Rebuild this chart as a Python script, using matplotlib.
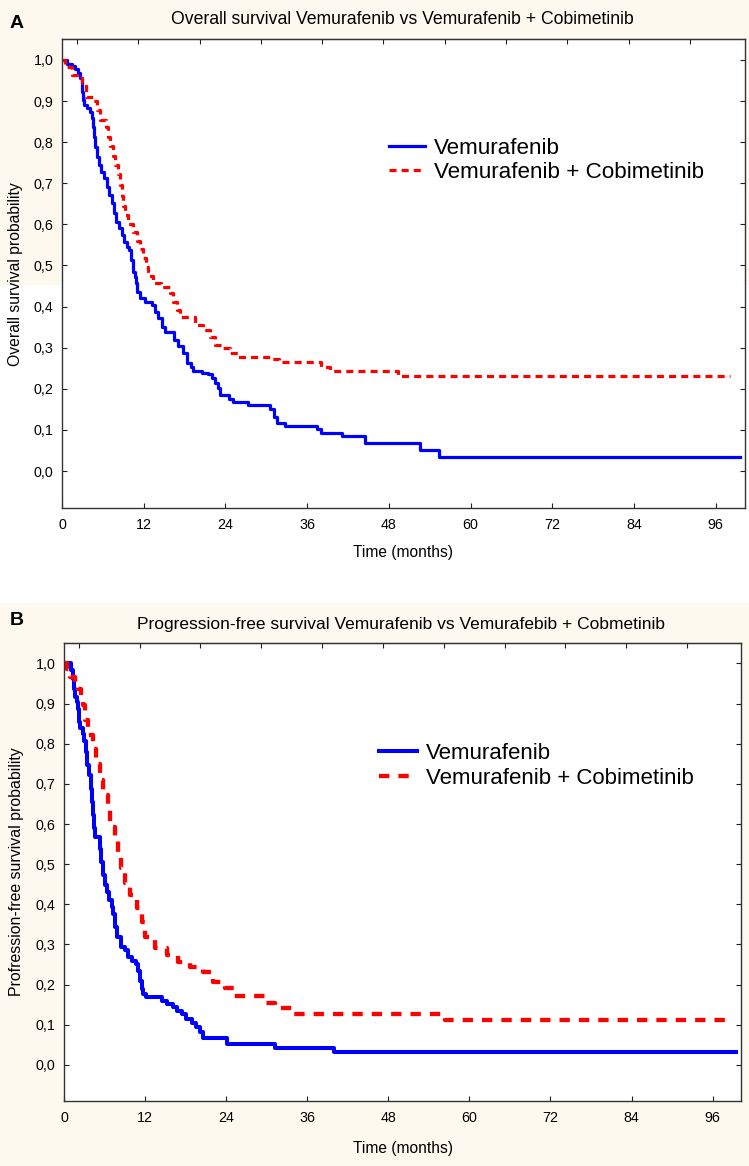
import matplotlib
matplotlib.use('Agg')
import matplotlib.pyplot as plt
from matplotlib.patches import Rectangle
from matplotlib.ticker import FuncFormatter

plt.rcParams['font.family'] = ['Liberation Sans', 'DejaVu Sans']

# ---------------- data ----------------
# Panel A: overall survival (step times in months, survival after the step)
os_vem_t = [0, 0.8, 1.4, 1.9, 2.4, 2.7, 2.9, 3.0, 3.05, 3.2, 3.6, 4.1, 4.35, 4.6, 4.75, 4.9,
            5.2, 5.5, 5.8, 6.2, 6.55, 6.95, 7.3, 7.65, 8.0, 8.4, 8.75, 9.1, 9.5, 9.8, 10.15,
            10.4, 10.7, 10.9, 11.05, 11.45, 12.2, 13.15, 13.65, 14.15, 14.65, 15.1, 16.5,
            17.1, 17.8, 18.3, 19.0, 19.3, 20.5, 21.5, 22.0, 22.5, 22.95, 23.2, 24.5, 25.15,
            27.3, 30.6, 31.1, 31.5, 32.8, 37.4, 38.1, 41.1, 44.5, 52.6, 55.4, 99.6]
os_vem_s = [1.0, 0.99, 0.985, 0.978, 0.968, 0.955, 0.943, 0.923, 0.903, 0.89, 0.882, 0.874,
            0.858, 0.838, 0.813, 0.789, 0.765, 0.745, 0.728, 0.712, 0.692, 0.672, 0.651,
            0.627, 0.607, 0.591, 0.574, 0.558, 0.546, 0.538, 0.513, 0.485, 0.473, 0.457,
            0.436, 0.42, 0.412, 0.404, 0.388, 0.372, 0.351, 0.337, 0.319, 0.303, 0.286,
            0.262, 0.254, 0.244, 0.238, 0.236, 0.226, 0.213, 0.201, 0.185, 0.174, 0.169,
            0.161, 0.150, 0.132, 0.118, 0.109, 0.101, 0.093, 0.084, 0.068, 0.05, 0.033, 0.033]

os_combo_t = [0, 0.5, 1.4, 2.6, 3.0, 3.5, 4.6, 5.2, 5.6, 6.4, 6.7, 7.05, 7.45, 7.8, 8.25, 8.45,
              8.75, 9.0, 9.3, 9.75, 10.45, 10.95, 11.45, 11.95, 12.3, 12.7, 13.4, 14.6, 15.9,
              16.35, 16.85, 17.3, 19.5, 20.7, 21.7, 22.4, 23.6, 24.6, 25.8, 30.5, 31.8, 38.1,
              39.3, 49.4, 98.1]
os_combo_s = [1.0, 0.984, 0.963, 0.955, 0.943, 0.911, 0.899, 0.878, 0.854, 0.838, 0.813,
              0.791, 0.766, 0.745, 0.723, 0.696, 0.669, 0.645, 0.623, 0.601, 0.582, 0.56,
              0.539, 0.517, 0.497, 0.474, 0.457, 0.447, 0.434, 0.412, 0.392, 0.374, 0.355,
              0.343, 0.327, 0.307, 0.299, 0.286, 0.278, 0.272, 0.264, 0.254, 0.244, 0.23, 0.23]

# Panel B: progression-free survival
pfs_vem_t = [0, 1.0, 1.35, 1.5, 1.65, 1.9, 2.0, 2.15, 2.4, 2.8, 3.0, 3.25, 3.45, 3.75, 3.95,
             4.1, 4.25, 4.45, 4.6, 5.3, 5.55, 5.8, 6.05, 6.3, 6.6, 7.05, 7.3, 7.55, 7.8, 8.5,
             9.1, 9.5, 10.0, 10.7, 11.0, 11.25, 11.5, 11.75, 12.2, 14.5, 15.2, 16.2, 16.7,
             17.4, 18.1, 18.9, 19.6, 20.1, 20.5, 24.1, 31.3, 39.9, 99.5]
pfs_vem_s = [1.0, 0.983, 0.962, 0.937, 0.916, 0.905, 0.887, 0.854, 0.838, 0.825, 0.808, 0.779,
             0.746, 0.721, 0.688, 0.655, 0.622, 0.589, 0.568, 0.539, 0.506, 0.473, 0.448,
             0.431, 0.41, 0.393, 0.376, 0.343, 0.318, 0.293, 0.285, 0.268, 0.259, 0.251,
             0.234, 0.209, 0.188, 0.176, 0.168, 0.159, 0.151, 0.143, 0.134, 0.126, 0.115,
             0.104, 0.094, 0.083, 0.066, 0.051, 0.042, 0.033, 0.033]

pfs_combo_t = [0, 0.5, 0.9, 1.6, 2.1, 2.5, 2.8, 3.1, 3.6, 4.3, 4.8, 5.3, 5.8, 6.5, 6.8, 7.5,
               8.0, 8.5, 9.0, 9.8, 10.8, 11.5, 12.0, 13.5, 15.3, 16.9, 18.7, 20.6, 22.0,
               23.8, 25.2, 29.9, 31.2, 33.9, 56.4, 98.8]
pfs_combo_s = [1.0, 0.985, 0.966, 0.95, 0.937, 0.915, 0.896, 0.858, 0.821, 0.788, 0.75,
               0.709, 0.672, 0.639, 0.593, 0.564, 0.522, 0.49, 0.452, 0.423, 0.39, 0.355,
               0.318, 0.292, 0.274, 0.257, 0.245, 0.232, 0.207, 0.191, 0.171, 0.154, 0.142,
               0.126, 0.113, 0.113]

series_labels = ['Vemurafenib', 'Vemurafenib + Cobimetinib']
x_ticks = [0, 12, 24, 36, 48, 60, 72, 84, 96]
top_ticks = [2.2, 11.2, 20.2, 29.2, 38.2, 47.2, 56.2, 65.2, 74.2, 83.2, 92.2]
y_ticks = [0.0, 0.1, 0.2, 0.3, 0.4, 0.5, 0.6, 0.7, 0.8, 0.9, 1.0]

title_a = 'Overall survival Vemurafenib vs Vemurafenib + Cobimetinib'
title_b = 'Progression-free survival Vemurafenib vs Vemurafebib + Cobmetinib'
ylabel_a = 'Overall survival probability'
ylabel_b = 'Profression-free survival probability'
xlabel = 'Time (months)'

# ---------------- figure ----------------
W, H = 749, 1166
fig = plt.figure(figsize=(W / 100, H / 100), dpi=100)
fig.patch.set_facecolor('white')
cream = '#fdf9ee'
fig.add_artist(Rectangle((0, 1 - 285 / H), 1, 285 / H, transform=fig.transFigure,
                         facecolor=cream, edgecolor='none', zorder=-10))
fig.add_artist(Rectangle((0, 0), 1, (H - 603) / H, transform=fig.transFigure,
                         facecolor=cream, edgecolor='none', zorder=-10))


def px_axes(l, t, r, b):
    return fig.add_axes([l / W, 1 - b / H, (r - l) / W, (b - t) / H])


comma = FuncFormatter(lambda v, p: f"{v:.1f}".replace('.', ','))


def style(ax, xmax):
    ax.set_facecolor('white')
    ax.set_xlim(0, xmax)
    ax.set_ylim(-0.09, 1.051)
    ax.set_xticks(x_ticks)
    ax.set_yticks(y_ticks)
    ax.yaxis.set_major_formatter(comma)
    ax.tick_params(axis='both', direction='in', length=3.5, width=0.8, labelsize=10.3,
                   colors='#222222', labelcolor='black')
    ax.tick_params(axis='x', pad=7)
    ax.tick_params(axis='y', pad=6, right=True)
    for s in ax.spines.values():
        s.set_color('#333333')
        s.set_linewidth(1.0)
    sec = ax.secondary_xaxis('top')
    sec.set_xticks(top_ticks)
    sec.tick_params(direction='in', length=3.5, width=0.8, labeltop=False, colors='#222222')
    sec.set_xticklabels([])


# Panel A
ax1 = px_axes(62, 39, 745, 508)
style(ax1, 100.3)
ax1.step(os_vem_t, os_vem_s, where='post', color='#0000ff', lw=2.3, label=series_labels[0])
ax1.step(os_combo_t, os_combo_s, where='post', color='#ff0000', lw=2.3,
         linestyle=(0, (2.2, 1.6)), label=series_labels[1])
ax1.legend(loc='center left', bbox_to_anchor=(389 / W, 1 - 160.5 / H),
           bbox_transform=fig.transFigure, frameon=False, fontsize=16.1,
           handlelength=1.6, handletextpad=0.4, labelspacing=0.12,
           borderpad=0, borderaxespad=0)

# Panel B
ax2 = px_axes(64, 643, 741, 1101)
style(ax2, 100.2)
ax2.step(pfs_vem_t, pfs_vem_s, where='post', color='#0000ff', lw=2.9, label=series_labels[0])
ax2.step(pfs_combo_t, pfs_combo_s, where='post', color='#ff0000', lw=3.1,
         linestyle=(0, (2.4, 2.1)), label=series_labels[1])
ax2.legend(loc='center left', bbox_to_anchor=(379 / W, 1 - 766 / H),
           bbox_transform=fig.transFigure, frameon=False, fontsize=16.0,
           handlelength=1.7, handletextpad=0.43, labelspacing=0.17,
           borderpad=0, borderaxespad=0)

# texts
fig.text(17 / W, 1 - 24 / H, 'A', weight='bold', fontsize=14, ha='center', va='center')
fig.text(402 / W, 1 - 20 / H, title_a, ha='center', va='center', fontsize=12.7)
fig.text(403 / W, 1 - 552 / H, xlabel, ha='center', va='center', fontsize=11.2)
fig.text(16 / W, 1 - 274 / H, ylabel_a, rotation=90, ha='center', va='center', fontsize=11.3)

fig.text(17 / W, 1 - 620 / H, 'B', weight='bold', fontsize=14, ha='center', va='center')
fig.text(401 / W, 1 - 624 / H, title_b, ha='center', va='center', fontsize=12.5)
fig.text(403 / W, 1 - 1148 / H, xlabel, ha='center', va='center', fontsize=11.2)
fig.text(17 / W, 1 - 872 / H, ylabel_b, rotation=90, ha='center', va='center', fontsize=11.4)

fig.savefig('out.png', dpi=100, facecolor=fig.get_facecolor())
